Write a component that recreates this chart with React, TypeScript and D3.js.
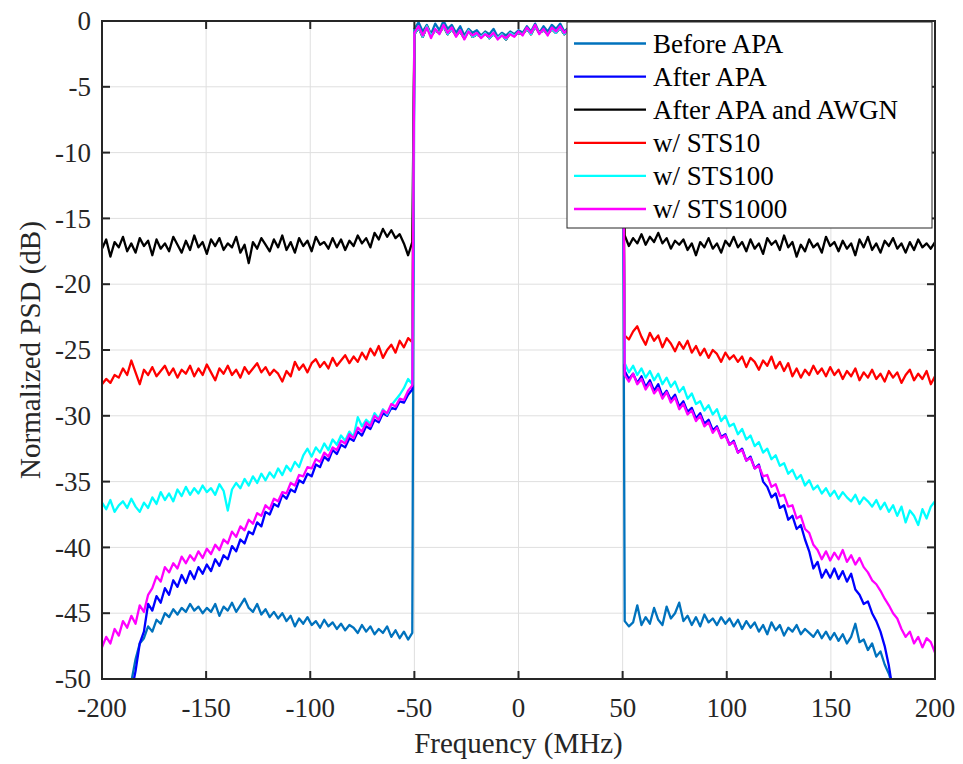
import React from 'react';
import * as d3 from 'd3';

// Frequency grids (MHz)
const freqLeft: number[] = d3.range(75).map((i) => -200 + (i * 149) / 74);  // -200 .. -51
const freqBand: number[] = d3.range(-50, 51, 2);                            // -50 .. 50
const freqRight: number[] = d3.range(75).map((i) => 51 + (i * 149) / 74);   // 51 .. 200

const xTicks = [-200, -150, -100, -50, 0, 50, 100, 150, 200];
const yTicks = [0, -5, -10, -15, -20, -25, -30, -35, -40, -45, -50];

const legendNames = ['Before APA', 'After APA', 'After APA and AWGN', 'w/ STS10', 'w/ STS100', 'w/ STS1000'];
const seriesColors = ['#0072BD', '#0000FF', '#000000', '#FF0000', '#00FFFF', '#FF00FF'];

// In-band PSD (dB)
const bandBefore = [-0.6,-0.1,-0.8,-0.3,-1.0,-0.2,-0.7,0.0,-0.6,-0.3,-0.9,-0.4,-1.1,-0.6,-0.9,-0.7,-1.1,-0.8,-1.0,-0.6,-1.2,-0.9,-1.1,-0.8,-1.0,-0.7,-0.9,-0.4,-0.8,-0.2,-0.9,-0.4,-0.8,-0.3,-0.6,-0.2,-0.8,-0.5,-1.0,-0.4,-0.7,-0.6,-1.0,-0.5,-0.8,-0.3,-0.9,-0.5,-1.2,-0.6,-0.9];
const bandAfter = [-1.0,-0.5,-1.2,-0.4,-1.1,-0.7,-0.9,-0.4,-1.0,-0.6,-1.1,-0.8,-1.3,-0.7,-1.2,-1.0,-1.2,-0.9,-1.3,-1.0,-1.3,-1.0,-1.4,-0.9,-1.1,-0.9,-1.0,-0.6,-1.0,-0.4,-0.9,-0.7,-1.0,-0.6,-0.9,-0.5,-1.0,-0.5,-1.1,-0.6,-0.9,-0.6,-1.0,-0.7,-1.0,-0.5,-1.1,-0.7,-1.2,-0.7,-1.1];
const bandSts1000 = [-0.9,-0.4,-1.1,-0.5,-1.3,-0.6,-1.0,-0.3,-0.9,-0.5,-1.2,-0.7,-1.4,-0.8,-1.1,-0.9,-1.3,-1.0,-1.2,-0.9,-1.4,-1.1,-1.3,-1.0,-1.2,-0.8,-1.1,-0.5,-0.9,-0.3,-1.0,-0.6,-1.1,-0.5,-0.8,-0.4,-0.9,-0.6,-1.2,-0.5,-0.8,-0.7,-1.1,-0.6,-0.9,-0.4,-1.0,-0.6,-1.3,-0.8,-1.0];

// Before APA
const beforeLeft = [-58,-57,-56,-55,-54,-53,-52,-50.2,-48.5,-47.3,-46.9,-46.0,-46.4,-45.5,-45.8,-45.0,-45.3,-44.7,-45.1,-44.6,-44.9,-44.3,-44.8,-44.5,-45.0,-44.6,-44.9,-44.3,-45.2,-44.5,-44.8,-44.2,-44.9,-44.4,-43.9,-44.6,-44.9,-44.3,-45.1,-44.7,-45.3,-44.9,-45.4,-45.0,-45.6,-45.2,-46.0,-45.4,-45.8,-45.3,-45.9,-45.6,-46.1,-45.5,-46.0,-45.7,-46.2,-45.8,-46.3,-45.9,-46.1,-46.5,-45.9,-46.4,-46.0,-46.6,-46.2,-46.5,-46.0,-46.8,-46.3,-46.9,-46.4,-47.0,-46.5];
const beforeRight = [-45.6,-46.0,-45.7,-44.4,-45.9,-45.3,-45.8,-44.6,-45.5,-45.9,-44.5,-45.4,-45.0,-44.2,-45.6,-45.2,-45.9,-45.3,-46.0,-45.1,-45.7,-45.4,-45.9,-45.3,-45.8,-45.4,-46.0,-45.5,-46.2,-45.6,-46.1,-45.7,-46.4,-45.9,-46.6,-45.7,-46.3,-45.9,-46.7,-46.1,-46.4,-45.9,-46.6,-46.2,-46.5,-46.8,-46.3,-46.9,-46.4,-47.0,-46.5,-47.1,-46.6,-47.3,-46.8,-45.8,-47.2,-47.0,-47.8,-47.3,-48.3,-47.9,-48.9,-49.6,-50.6,-51.5,-52.5,-53.5,-54.5,-55,-55.5,-56,-56.5,-57,-57.5];

// After APA
const afterLeft = [-60,-59,-58,-57,-56,-55,-53,-51.0,-49.4,-47.3,-46.4,-44.3,-44.8,-43.7,-44.2,-43.1,-43.6,-42.5,-43.0,-42.1,-42.7,-41.8,-42.4,-41.5,-42.0,-41.3,-41.8,-40.9,-41.4,-40.6,-40.9,-39.9,-40.3,-39.4,-39.7,-38.8,-39.0,-38.1,-38.4,-37.3,-37.5,-36.7,-36.9,-36.0,-36.3,-35.6,-35.8,-34.9,-35.1,-34.4,-34.6,-33.7,-33.9,-33.1,-33.4,-32.6,-32.9,-32.2,-32.4,-31.7,-31.9,-31.2,-31.5,-30.8,-31.0,-30.3,-30.5,-29.8,-30.0,-29.4,-29.5,-28.9,-29.0,-28.4,-28.0];
const afterRight = [-26.6,-27.2,-26.8,-27.5,-27.0,-27.8,-27.3,-28.1,-27.6,-28.5,-28.1,-28.8,-28.4,-29.3,-28.9,-29.7,-29.4,-30.2,-29.8,-30.6,-30.3,-31.1,-30.8,-31.6,-31.4,-32.2,-31.9,-32.8,-32.5,-33.4,-33.1,-34.0,-33.7,-35.0,-35.4,-36.2,-35.9,-37.0,-36.8,-37.9,-37.6,-38.6,-38.3,-39.4,-40.3,-41.6,-41.1,-42.3,-41.7,-42.3,-41.6,-42.4,-41.8,-42.6,-42.0,-43.2,-43.6,-44.3,-44.1,-45.0,-45.6,-46.4,-47.5,-49.0,-51.0,-52.5,-54,-55,-56,-57,-58,-59,-60,-61,-62];

// After APA and AWGN
const awgnLeft = [-17.3,-16.6,-17.9,-16.8,-17.2,-16.4,-17.5,-16.9,-17.6,-16.5,-17.1,-16.7,-17.8,-16.6,-17.3,-16.9,-17.5,-16.4,-17.0,-17.6,-16.7,-17.4,-16.3,-17.2,-16.8,-17.7,-16.6,-17.1,-16.5,-17.4,-16.9,-17.2,-16.4,-17.6,-17.0,-18.4,-16.8,-17.3,-16.5,-17.0,-17.5,-16.6,-17.2,-16.3,-17.4,-16.8,-17.6,-16.5,-17.1,-16.7,-17.5,-16.4,-17.0,-16.8,-17.3,-16.5,-17.2,-16.6,-17.4,-16.7,-17.1,-16.3,-16.9,-16.5,-17.2,-16.1,-16.6,-15.8,-16.4,-15.9,-16.5,-16.2,-16.9,-17.8,-16.8];
const awgnRight = [-16.3,-17.1,-16.5,-16.9,-16.2,-17.0,-16.4,-16.8,-16.1,-16.9,-16.5,-17.3,-16.7,-17.0,-16.6,-17.4,-16.9,-17.8,-16.8,-17.2,-16.5,-17.3,-16.9,-17.6,-16.7,-17.1,-16.4,-17.2,-16.8,-17.5,-16.6,-17.3,-16.9,-17.7,-16.5,-17.0,-16.7,-17.4,-16.3,-17.2,-16.8,-17.9,-17.0,-17.5,-16.6,-17.2,-16.9,-17.6,-16.4,-17.1,-16.8,-17.5,-16.7,-17.3,-16.9,-17.8,-16.6,-17.2,-16.4,-17.4,-16.9,-17.6,-16.7,-17.1,-16.5,-17.3,-16.9,-17.6,-16.8,-17.4,-16.6,-17.2,-16.9,-17.3,-16.8];

// w/ STS10
const sts10Left = [-27.6,-27.2,-27.5,-26.9,-27.1,-26.4,-26.9,-25.8,-26.7,-27.6,-26.5,-26.9,-26.3,-27.0,-26.6,-26.2,-26.9,-26.4,-27.1,-26.5,-26.8,-26.2,-27.0,-26.4,-26.9,-26.1,-26.7,-27.3,-26.4,-26.8,-26.2,-26.9,-26.5,-27.1,-26.3,-26.8,-26.4,-26.0,-26.7,-26.3,-26.9,-26.5,-26.8,-27.4,-26.6,-27.0,-25.9,-26.5,-26.1,-26.7,-26.0,-25.7,-26.3,-25.9,-26.4,-25.6,-26.2,-25.8,-25.4,-26.0,-25.5,-25.9,-25.2,-25.7,-24.9,-25.4,-24.7,-25.6,-25.0,-24.6,-25.2,-24.3,-24.8,-24.1,-24.4];
const sts10Right = [-23.9,-24.2,-23.6,-23.2,-24.0,-24.6,-23.7,-24.3,-23.9,-24.8,-24.1,-24.5,-25.1,-24.4,-24.9,-24.3,-25.2,-24.7,-25.4,-24.9,-25.6,-25.0,-25.3,-25.9,-25.2,-25.7,-25.4,-25.9,-25.5,-26.3,-25.6,-25.9,-26.5,-25.8,-26.2,-25.5,-26.4,-25.9,-26.6,-26.0,-27.0,-26.4,-27.1,-26.5,-26.9,-26.2,-26.8,-26.4,-27.0,-26.3,-26.9,-26.5,-27.2,-26.6,-27.0,-26.4,-27.3,-26.7,-27.1,-26.5,-27.2,-26.8,-27.4,-26.6,-27.1,-26.7,-27.5,-26.9,-26.5,-27.3,-26.8,-27.2,-26.6,-27.6,-27.0];

// w/ STS100
const sts100Left = [-36.6,-37.1,-36.4,-37.3,-36.8,-36.5,-37.0,-36.3,-36.9,-37.3,-36.6,-37.0,-36.2,-36.7,-35.8,-36.4,-35.9,-36.5,-35.6,-36.1,-35.4,-36.0,-35.5,-35.9,-35.3,-35.8,-35.5,-36.0,-35.2,-35.7,-37.2,-35.6,-35.1,-35.5,-34.8,-35.3,-34.6,-35.1,-34.4,-34.9,-34.3,-34.7,-34.0,-34.5,-33.8,-34.2,-33.5,-33.9,-33.0,-32.5,-33.1,-32.4,-32.8,-32.1,-32.6,-31.8,-32.2,-31.5,-31.9,-31.2,-31.6,-30.1,-30.8,-30.3,-30.6,-29.8,-30.2,-29.5,-29.9,-29.2,-28.8,-28.4,-27.9,-27.2,-27.6];
const sts100Right = [-26.0,-26.7,-26.2,-26.9,-26.4,-27.1,-26.6,-27.3,-26.8,-27.6,-27.1,-27.8,-27.4,-28.2,-27.8,-28.7,-28.3,-29.1,-28.9,-29.6,-29.2,-29.9,-29.5,-30.4,-30.0,-30.8,-30.6,-31.4,-31.0,-31.8,-31.5,-32.3,-32.0,-32.8,-32.5,-33.3,-33.0,-33.8,-33.6,-34.4,-34.1,-34.8,-34.5,-35.3,-34.9,-35.6,-35.3,-35.9,-35.5,-36.1,-35.7,-36.3,-35.8,-36.2,-36.5,-36.0,-36.7,-36.2,-36.5,-36.9,-36.4,-37.1,-36.6,-37.3,-36.8,-37.6,-36.9,-38.1,-37.2,-37.6,-38.3,-37.1,-37.8,-36.9,-36.5];

// w/ STS1000
const sts1000Left = [-47.6,-46.8,-47.3,-46.2,-46.7,-45.6,-46.1,-45.2,-45.8,-44.4,-44.9,-43.6,-43.1,-42.2,-42.6,-41.5,-41.9,-41.2,-41.6,-40.7,-41.2,-40.6,-41.0,-40.3,-40.8,-40.1,-40.5,-39.8,-40.2,-39.4,-39.7,-38.8,-39.2,-38.4,-38.7,-37.9,-38.2,-37.4,-37.6,-36.8,-37.1,-36.3,-36.5,-35.8,-35.9,-35.1,-35.3,-34.5,-34.6,-33.9,-34.0,-33.3,-33.5,-32.8,-33.1,-32.4,-32.6,-31.9,-32.1,-31.4,-31.7,-30.9,-31.2,-30.5,-30.8,-30.0,-30.3,-29.6,-29.8,-29.1,-29.3,-28.7,-28.8,-28.1,-27.7];
const sts1000Right = [-26.9,-27.4,-26.8,-27.6,-27.2,-28.0,-27.5,-28.3,-27.9,-28.7,-28.2,-29.0,-28.6,-29.5,-29.1,-29.9,-29.6,-30.4,-30.0,-30.8,-30.5,-31.3,-30.9,-31.7,-31.5,-32.2,-32.0,-32.8,-32.6,-33.4,-33.2,-34.0,-33.8,-34.6,-34.5,-35.4,-35.2,-36.1,-36.0,-36.9,-36.8,-37.8,-37.6,-38.6,-38.9,-39.8,-40.2,-40.9,-40.3,-41.0,-40.4,-40.9,-40.2,-41.1,-40.6,-41.3,-40.8,-41.5,-41.9,-42.5,-42.8,-43.3,-43.9,-44.4,-45.0,-45.4,-46.2,-46.8,-46.4,-47.3,-46.8,-47.6,-46.9,-47.2,-48.0];

const seriesLeft = [beforeLeft, afterLeft, awgnLeft, sts10Left, sts100Left, sts1000Left];
const seriesBand = [bandBefore, bandAfter, bandAfter, bandAfter, bandAfter, bandSts1000];
const seriesRight = [beforeRight, afterRight, awgnRight, sts10Right, sts100Right, sts1000Right];

const W = 963;
const H = 764;
const plot = { left: 102, right: 935, top: 21, bottom: 679 };
const FONT = '"Liberation Serif", "Times New Roman", Times, Tinos, "Nimbus Roman", "DejaVu Serif", serif';
const AX = '#262626';

function zipSeg(fs: number[], vs: number[]): [number, number][] {
  const n = Math.min(fs.length, vs.length);
  const out: [number, number][] = [];
  for (let i = 0; i < n; i++) out.push([fs[i], vs[i]]);
  return out;
}

export default function App() {
  const x = d3.scaleLinear().domain([-200, 200]).range([plot.left, plot.right]);
  const y = d3.scaleLinear().domain([-50, 0]).range([plot.bottom, plot.top]);
  const line = d3.line<[number, number]>().x((d) => x(d[0])).y((d) => y(d[1]));

  const series = legendNames.map((name, i) => ({
    name,
    color: seriesColors[i],
    pts: [
      ...zipSeg(freqLeft, seriesLeft[i]),
      ...zipSeg(freqBand, seriesBand[i]),
      ...zipSeg(freqRight, seriesRight[i]),
    ],
  }));

  const tick = 8;
  const leg = { x: 567, y: 22, w: 365, h: 206, row0: 43.5, dy: 33.1, lx0: 574, lx1: 646, tx: 653 };
  const textStyle = { fontFamily: FONT };

  return (
    <svg width={W} height={H} style={{ position: 'absolute', left: 0, top: 0, background: '#fff' }}>
      <defs>
        <clipPath id="plotClip">
          <rect x={plot.left} y={plot.top} width={plot.right - plot.left} height={plot.bottom - plot.top} />
        </clipPath>
      </defs>
      <rect x={0} y={0} width={W} height={H} fill="#fff" />
      {/* grid */}
      <g stroke="#DFDFDF" strokeWidth={1}>
        {xTicks.slice(1, -1).map((t) => (
          <line key={'gx' + t} x1={x(t)} x2={x(t)} y1={plot.top} y2={plot.bottom} />
        ))}
        {yTicks.slice(1, -1).map((t) => (
          <line key={'gy' + t} x1={plot.left} x2={plot.right} y1={y(t)} y2={y(t)} />
        ))}
      </g>
      {/* series */}
      <g clipPath="url(#plotClip)" fill="none" strokeWidth={2.3} strokeLinejoin="round">
        {series.map((s) => (
          <path key={s.name} d={line(s.pts) || ''} stroke={s.color} />
        ))}
      </g>
      {/* axes box and ticks */}
      <g stroke={AX} strokeWidth={2}>
        <rect x={plot.left} y={plot.top} width={plot.right - plot.left} height={plot.bottom - plot.top} fill="none" />
        {xTicks.map((t) => (
          <g key={'tx' + t}>
            <line x1={x(t)} x2={x(t)} y1={plot.bottom} y2={plot.bottom - tick} />
            <line x1={x(t)} x2={x(t)} y1={plot.top} y2={plot.top + tick} />
          </g>
        ))}
        {yTicks.map((t) => (
          <g key={'ty' + t}>
            <line x1={plot.left} x2={plot.left + tick} y1={y(t)} y2={y(t)} />
            <line x1={plot.right} x2={plot.right - tick} y1={y(t)} y2={y(t)} />
          </g>
        ))}
      </g>
      {/* tick labels */}
      <g style={textStyle} fontSize={27} fill={AX}>
        {xTicks.map((t) => (
          <text key={'lx' + t} x={x(t)} y={717} textAnchor="middle">{String(t)}</text>
        ))}
        {yTicks.map((t) => (
          <text key={'ly' + t} x={91} y={y(t)} dy="0.34em" textAnchor="end">{String(t)}</text>
        ))}
      </g>
      {/* axis labels */}
      <text x={(plot.left + plot.right) / 2} y={753} textAnchor="middle" style={textStyle} fontSize={29} fill={AX}>
        Frequency (MHz)
      </text>
      <text
        transform={`translate(40, ${(plot.top + plot.bottom) / 2}) rotate(-90)`}
        textAnchor="middle"
        style={textStyle}
        fontSize={29}
        fill={AX}
      >
        Normalized PSD (dB)
      </text>
      {/* legend */}
      <g>
        <rect x={leg.x} y={leg.y} width={leg.w} height={leg.h} fill="#fff" stroke={AX} strokeWidth={1} />
        {series.map((s, i) => (
          <g key={'lg' + s.name}>
            <line x1={leg.lx0} x2={leg.lx1} y1={leg.row0 + i * leg.dy} y2={leg.row0 + i * leg.dy} stroke={s.color} strokeWidth={2.3} />
            <text x={leg.tx} y={leg.row0 + i * leg.dy} dy="0.34em" style={textStyle} fontSize={27} fill="#000">
              {s.name}
            </text>
          </g>
        ))}
      </g>
    </svg>
  );
}
